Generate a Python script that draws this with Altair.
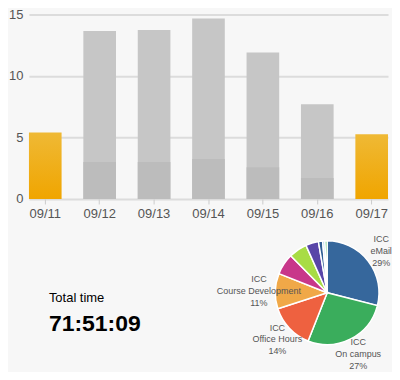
import altair as alt
import pandas as pd

# ---- data ----
days = ["09/11", "09/12", "09/13", "09/14", "09/15", "09/16", "09/17"]
totals = [5.4, 13.65, 13.73, 14.68, 11.9, 7.7, 5.27]
lower = [0.0, 3.0, 3.0, 3.24, 2.57, 1.7, 0.0]
weekend = [True, False, False, False, False, False, True]

pie_cats = ["ICC eMail", "ICC On campus", "ICC Office Hours", "ICC Course Development",
            "Other 1", "Other 2", "Other 3", "Other 4", "Other 5", "Other 6"]
pie_pct = [29, 27, 14, 11, 6.6, 5.7, 4.0, 1.3, 0.7, 0.7]
pie_labels = ["ICC\neMail\n29%", "ICC\nOn campus\n27%", "ICC\nOffice Hours\n14%",
              "ICC\nCourse Development\n11%", "", "", "", "", "", ""]
pie_colors = ["#36679c", "#3aad5c", "#ee6140", "#f0a848", "#c8378a",
              "#a8dc45", "#5845a8", "#2f5f94", "#8ec6e6", "#5cc877"]

summary_title = ["Total time"]
summary_value = ["71:51:09"]

FONT = "Liberation Sans"

# ---- bar chart ----
bar_df = pd.DataFrame({"day": days, "total": totals, "lower": lower, "weekend": weekend})

x_enc = alt.X("day:N", sort=days,
              scale=alt.Scale(paddingInner=0.4, paddingOuter=0),
              axis=alt.Axis(title=None, labelAngle=0, labelFontSize=13, labelColor="#555555",
                            labelFont=FONT, labelPadding=4, tickColor="#cccccc", tickSize=5,
                            domain=False, grid=False))
y_scale = alt.Scale(domain=[0, 15])
y_axis = alt.Axis(title=None, values=[0, 5, 10, 15], grid=True, gridColor="#dcdcdc",
                  gridWidth=2, domain=False, ticks=False, labelFontSize=13,
                  labelColor="#555555", labelFont=FONT, labelPadding=6)

base = alt.Chart(bar_df).encode(x=x_enc)

weekday_top = base.transform_filter("!datum.weekend").mark_bar(color="#c6c6c6").encode(
    y=alt.Y("total:Q", scale=y_scale, axis=y_axis))
weekday_low = base.transform_filter("!datum.weekend").mark_bar(color="#bcbcbc").encode(
    y=alt.Y("lower:Q", scale=y_scale))
weekend_bar = base.transform_filter("datum.weekend").mark_bar(
    color=alt.Gradient(gradient="linear", x1=0, x2=0, y1=0, y2=1,
                       stops=[alt.GradientStop(offset=0, color="#efb935"),
                              alt.GradientStop(offset=1, color="#f0a500")])
).encode(y=alt.Y("total:Q", scale=y_scale))

# ---- bottom panel: total time + pie (placed below the bar plot) ----
pie_df = pd.DataFrame({"cat": pie_cats, "pct": pie_pct, "label": pie_labels,
                       "order": list(range(len(pie_cats)))})
sum_df = pd.DataFrame({"title": summary_title, "value": summary_value})

CX, CY = 299, 279

pie = alt.Chart(pie_df).mark_arc(radius=52, stroke="white", strokeWidth=1.5).encode(
    theta=alt.Theta("pct:Q", stack=True),
    order=alt.Order("order:Q"),
    color=alt.Color("cat:N", scale=alt.Scale(domain=pie_cats, range=pie_colors), legend=None),
    x=alt.value(CX), y=alt.value(CY),
)
pie_text = alt.Chart(pie_df).mark_text(radius=68.5, fontSize=9, font=FONT, color="#555555",
                                       lineBreak="\n", lineHeight=12, align="center",
                                       baseline="middle", dy=-12).encode(
    theta=alt.Theta("pct:Q", stack=True),
    order=alt.Order("order:Q"),
    text="label:N",
    x=alt.value(CX), y=alt.value(CY),
)

title_txt = alt.Chart(sum_df).mark_text(align="left", baseline="alphabetic", fontSize=13,
                                        font=FONT, color="#000000").encode(
    text="title:N", x=alt.value(20), y=alt.value(288))
value_txt = alt.Chart(sum_df).mark_text(align="left", baseline="alphabetic", fontSize=23,
                                        fontWeight="bold", font=FONT, color="#000000").encode(
    text="value:N", x=alt.value(20), y=alt.value(317))

chart = alt.layer(weekday_top, weekday_low, weekend_bar, title_txt, value_txt, pie, pie_text
                  ).resolve_scale(theta="independent").properties(
    width=360, height=185, background="#f7f7f7", padding=0
).configure_view(stroke=None)

chart.save("out.html", embed_options={"renderer": "svg", "actions": False})
